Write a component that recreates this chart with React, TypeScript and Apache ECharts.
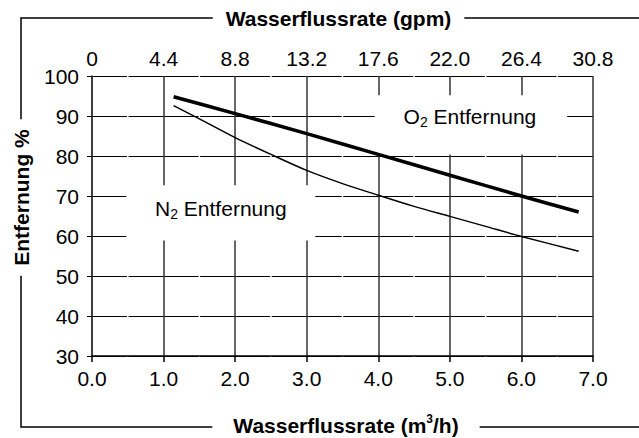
import React, { useEffect, useRef } from 'react';
import * as echarts from 'echarts';

// Bottom axis (m3/h) and matching top axis labels (gpm)
const flowTicks = [0, 1, 2, 3, 4, 5, 6, 7];
const gpmLabels = ['0', '4.4', '8.8', '13.2', '17.6', '22.0', '26.4', '30.8'];

// O2 removal (thick line)
const o2X = [1.14, 2.0, 3.0, 4.0, 5.0, 6.0, 6.8];
const o2Y = [94.8, 90.6, 85.6, 80.4, 75.2, 70.0, 66.0];

// N2 removal (thin line)
const n2X = [1.14, 1.5, 2.0, 2.5, 3.0, 3.5, 4.0, 4.5, 5.0, 5.5, 6.0, 6.8];
const n2Y = [92.6, 89.3, 84.6, 80.4, 76.4, 73.1, 70.2, 67.4, 64.9, 62.4, 59.9, 56.2];

const FONT = '"Liberation Sans", Arial, sans-serif';

export default function App() {
  const ref = useRef<HTMLDivElement>(null);

  useEffect(() => {
    if (!ref.current) return;
    const chart = echarts.init(ref.current, undefined, { renderer: 'svg' });
    const labelStyle = { fontSize: 21, color: '#000', fontFamily: FONT };
    chart.setOption({
      animation: false,
      grid: { left: 92, right: 46, top: 76, bottom: 82 },
      xAxis: [
        {
          type: 'value',
          position: 'bottom',
          min: flowTicks[0],
          max: flowTicks[flowTicks.length - 1],
          interval: 1,
          axisLine: { show: true, lineStyle: { color: '#000', width: 1.5 } },
          axisTick: { show: true, length: 6, lineStyle: { color: '#000', width: 1.5 } },
          axisLabel: { ...labelStyle, margin: 12, formatter: (v: number) => v.toFixed(1) },
          splitLine: { show: true, lineStyle: { color: '#333', width: 1.5 } },
        },
        {
          type: 'value',
          position: 'top',
          min: flowTicks[0],
          max: flowTicks[flowTicks.length - 1],
          interval: 1,
          axisLine: { show: false },
          axisTick: { show: false },
          axisLabel: { ...labelStyle, margin: 7, formatter: (v: number) => gpmLabels[Math.round(v)] },
          splitLine: { show: false },
        },
      ],
      yAxis: {
        type: 'value',
        min: 30,
        max: 100,
        interval: 10,
        axisLine: { show: true, lineStyle: { color: '#333', width: 1.5 } },
        axisTick: { show: true, length: 5, lineStyle: { color: '#000', width: 1 } },
        axisLabel: { ...labelStyle, margin: 13 },
        splitLine: {
          show: true,
          lineStyle: { color: '#000', width: 1, type: [70.07, 1.5], dashOffset: 35 },
        },
      },
      series: [
        {
          name: 'O2 Entfernung',
          type: 'line',
          xAxisIndex: 0,
          data: o2X.map((x, i) => [x, o2Y[i]]),
          smooth: 0.3,
          showSymbol: false,
          lineStyle: { color: '#000', width: 3.5 },
          z: 3,
        },
        {
          name: 'N2 Entfernung',
          type: 'line',
          xAxisIndex: 0,
          data: n2X.map((x, i) => [x, n2Y[i]]),
          smooth: 0.3,
          showSymbol: false,
          lineStyle: { color: '#000', width: 1.5 },
          z: 3,
        },
      ],
    });

    const p = (x: number, y: number) =>
      chart.convertToPixel({ xAxisIndex: 0, yAxisIndex: 0 }, [x, y]) as number[];

    const box = (x0: number, y0: number, x1: number, y1: number) => {
      const a = p(x0, y0);
      const b = p(x1, y1);
      return {
        type: 'rect',
        z: 1,
        shape: { x: a[0], y: a[1], width: b[0] - a[0], height: b[1] - a[1] },
        style: { fill: '#fff' },
      };
    };

    const subRich = {
      n: { fontSize: 21, fontFamily: FONT, color: '#000', lineHeight: 25 },
      s: { fontSize: 14, fontFamily: FONT, color: '#000', lineHeight: 13, verticalAlign: 'bottom' },
    };

    const n2Pos = p(1.8, 67.0);
    const o2Pos = p(5.28, 90.0);

    chart.setOption({
      graphic: [
        // outer frame
        {
          type: 'rect',
          z: 5,
          shape: { x: 21, y: 18, width: 700, height: 409 },
          style: { fill: 'transparent', stroke: '#000', lineWidth: 1.5 },
        },
        {
          type: 'text',
          z: 6,
          x: 338.5,
          y: 18,
          style: {
            text: 'Wasserflussrate (gpm)',
            fontSize: 21,
            fontWeight: 'bold',
            fontFamily: FONT,
            fill: '#000',
            align: 'center',
            verticalAlign: 'middle',
            backgroundColor: '#fff',
            padding: [2, 13],
          },
        },
        {
          type: 'text',
          z: 6,
          x: 346,
          y: 425,
          style: {
            text: '{b|Wasserflussrate (m}{sup|3}{b|/h)}',
            rich: {
              b: { fontSize: 21, fontWeight: 'bold', fontFamily: FONT, color: '#000', lineHeight: 24 },
              sup: { fontSize: 12, fontWeight: 'bold', fontFamily: FONT, color: '#000', lineHeight: 13, verticalAlign: 'top' },
            },
            align: 'center',
            verticalAlign: 'middle',
            backgroundColor: '#fff',
            padding: [2, 21],
          },
        },
        {
          type: 'text',
          z: 6,
          x: 21,
          y: 197.5,
          rotation: Math.PI / 2,
          style: {
            text: 'Entfernung %',
            fontSize: 21,
            fontWeight: 'bold',
            fontFamily: FONT,
            fill: '#000',
            align: 'center',
            verticalAlign: 'middle',
            backgroundColor: '#fff',
            padding: [2, 10],
          },
        },
        // annotation boxes
        box(0.48, 72.7, 3.12, 58.9),
        box(3.95, 95.2, 6.64, 80.4),
        {
          type: 'text',
          z: 4,
          x: n2Pos[0],
          y: n2Pos[1],
          style: {
            text: '{n|N}{s|2}{n| Entfernung}',
            rich: subRich,
            align: 'center',
            verticalAlign: 'middle',
          },
        },
        {
          type: 'text',
          z: 4,
          x: o2Pos[0],
          y: o2Pos[1],
          style: {
            text: '{n|O}{s|2}{n| Entfernung}',
            rich: subRich,
            align: 'center',
            verticalAlign: 'middle',
          },
        },
      ],
    });

    return () => chart.dispose();
  }, []);

  return (
    <div
      ref={ref}
      style={{ position: 'fixed', left: 0, top: 0, width: 639, height: 438, background: '#fff' }}
    />
  );
}
